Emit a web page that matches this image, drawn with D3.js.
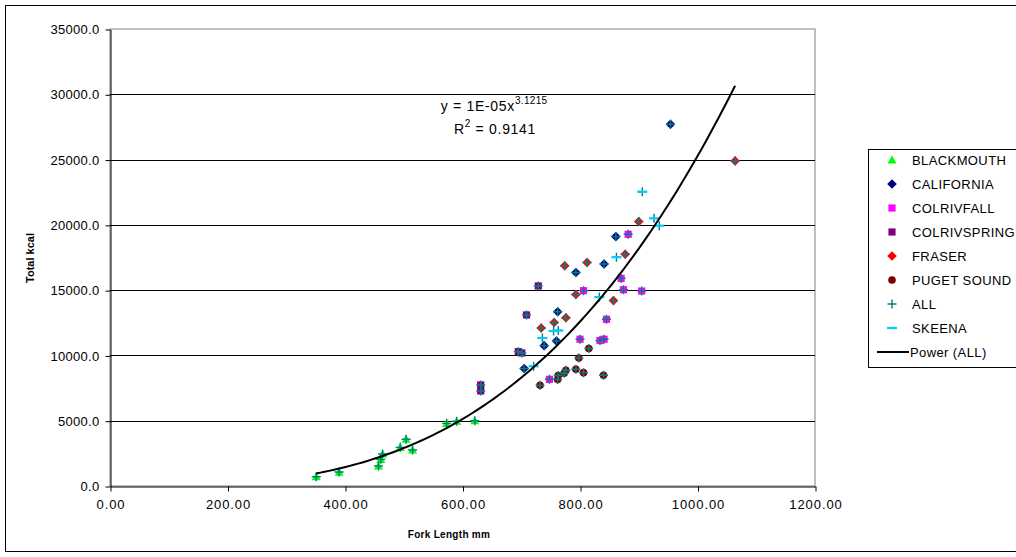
<!DOCTYPE html>
<html>
<head>
<meta charset="utf-8">
<script src="https://cdn.jsdelivr.net/npm/d3@7"></script>
<style>
  body { margin: 0; background: #fff; }
  svg { display: block; font-family: 'Liberation Sans', Arial, sans-serif; }
</style>
</head>
<body>
<div id="chart"></div>
<script>
// data: [fork length mm, total kcal]
const blackmouth = [[351,710],[390,1070],[457,1530],[461,2040],[464,2450],[494,2960],[504,3580],[515,2760],[573,4800],[590,4960],[621,5000]];
const california = [[954,27700],[861,19100],[841,17000],[793,16350],[762,13350],[760,11100],[739,10750],[705,9000]];
const colrivfall = [[882,19280],[870,15900],[806,14960],[874,15030],[905,14930],[845,12770],[800,11240],[834,11140],[841,11240],[748,8170]];
const colrivspring = [[729,15320],[709,13100],[695,10290],[701,10190],[631,7740],[631,7280]];
const fraser = [[1064,24900],[900,20250],[877,17750],[774,16870],[812,17120],[793,14670],[857,14200],[776,12890],[756,12520],[734,12100]];
const pugetSound = [[815,10530],[798,9800],[776,8860],[773,8630],[793,8940],[806,8680],[840,8480],[763,8460],[762,8160],[732,7710]];
const skeena = [[862,17520],[833,14470],[755,11870],[763,11910],[736,11330],[721,9170],[906,22540],[926,20500],[935,19940]];
const allFish = [].concat(blackmouth, california, colrivfall, colrivspring, fraser, pugetSound, skeena);

const yTicks = [0, 5000, 10000, 15000, 20000, 25000, 30000, 35000];
const xTicks = [0, 200, 400, 600, 800, 1000, 1200];

// exponent shown in the trendline label
const powerExponent = 3.1215;

const width = 1016;
const height = 557;

const x = d3.scaleLinear().domain([0, 1200]).range([110, 815]);
const y = d3.scaleLinear().domain([0, 35000]).range([486, 29]);

const svg = d3.select('#chart')
    .append('svg')
        .attr('width', width)
        .attr('height', height);

//outer chart border
svg.append('rect')
    .attr('x', 5.5).attr('y', 5.5)
    .attr('width', 1030).attr('height', 546)
    .attr('fill', 'white')
    .attr('stroke', 'black');

//plot area
svg.append('rect')
    .attr('x', x(0)).attr('y', y(35000))
    .attr('width', x(1200) - x(0)).attr('height', y(0) - y(35000))
    .attr('fill', 'white')
    .attr('stroke', '#808080');

//gridlines
svg.append('g')
    .selectAll('line')
    .data(yTicks.filter(d => d > 0 && d < 35000))
    .join('line')
        .attr('x1', x(0)).attr('x2', x(1200))
        .attr('y1', d => Math.round(y(d)) + 0.5)
        .attr('y2', d => Math.round(y(d)) + 0.5)
        .attr('stroke', 'black');

//axes
const yAxis = svg.append('g')
    .attr('transform', `translate(${x(0) + 0.5}, 0.5)`)
    .call(d3.axisLeft(y).tickValues(yTicks).tickFormat(d3.format('.1f')).tickSize(5).tickPadding(6).tickSizeOuter(0));
const xAxis = svg.append('g')
    .attr('transform', `translate(0.5, ${y(0) + 0.5})`)
    .call(d3.axisBottom(x).tickValues(xTicks).tickFormat(d3.format('.2f')).tickSize(5).tickPadding(8).tickSizeOuter(0));

[yAxis, xAxis].forEach(a => {
    a.selectAll('text').attr('font-size', 13).attr('fill', 'black').attr('font-family', 'Liberation Sans, Arial, sans-serif');
    a.selectAll('line, path').attr('stroke', 'black');
});
yAxis.selectAll('text').attr('letter-spacing', 0.3);
xAxis.selectAll('text').attr('letter-spacing', 0.9);

//axis titles
svg.append('text')
    .attr('x', 449).attr('y', 538)
    .attr('text-anchor', 'middle')
    .attr('font-size', 10).attr('font-weight', 'bold')
    .attr('letter-spacing', 0.3)
    .text('Fork Length mm');

svg.append('text')
    .attr('transform', 'translate(34, 258) rotate(-90)')
    .attr('text-anchor', 'middle')
    .attr('font-size', 11).attr('font-weight', 'bold')
    .text('Total kcal');

//power trendline: coefficient fitted in log-log space to ALL, exponent from label
const lx = allFish.map(d => Math.log(d[0]));
const ly = allFish.map(d => Math.log(d[1]));
const a = Math.exp(d3.mean(ly) - powerExponent * d3.mean(lx));
const [xMin, xMax] = d3.extent(allFish, d => d[0]);
const fitPts = d3.range(0, 101).map(i => {
    const xv = xMin + (xMax - xMin) * i / 100;
    return [xv, a * Math.pow(xv, powerExponent)];
});

//marker shapes
const sq = s => `M${-s},${-s}H${s}V${s}H${-s}Z`;
const diamond = s => `M0,${-s}L${s},0L0,${s}L${-s},0Z`;
const triangle = s => `M0,${-s}L${s},${s * 0.8}L${-s},${s * 0.8}Z`;
const plus = s => `M${-s},0H${s}M0,${-s}V${s}`;
const dash = s => `M${-s},0H${s}`;

const series = [
    {name: 'BLACKMOUTH', data: blackmouth, path: triangle(4.5), fill: '#00FF00', stroke: 'none'},
    {name: 'CALIFORNIA', data: california, path: diamond(4.8), fill: '#000080', stroke: 'none'},
    {name: 'COLRIVFALL', data: colrivfall, path: sq(3.6), fill: '#FF00FF', stroke: 'none'},
    {name: 'COLRIVSPRING', data: colrivspring, path: sq(3.6), fill: '#800080', stroke: 'none'},
    {name: 'FRASER', data: fraser, path: diamond(4.8), fill: '#FF0000', stroke: 'none'},
    {name: 'PUGET SOUND', data: pugetSound, circle: 3.8, fill: '#800000', stroke: 'none'},
    {name: 'ALL', data: allFish, path: plus(4.5), fill: 'none', stroke: '#008080', sw: 1.4},
    {name: 'SKEENA', data: skeena, path: dash(5), fill: 'none', stroke: '#00CCFF', sw: 2.2}
];

function drawMarker(sel, s) {
    if (s.circle) {
        sel.append('circle').attr('r', s.circle).attr('fill', s.fill);
    } else {
        sel.append('path').attr('d', s.path)
            .attr('fill', s.fill)
            .attr('stroke', s.stroke)
            .attr('stroke-width', s.sw || 1);
    }
}

series.forEach(s => {
    svg.append('g')
        .selectAll('g')
        .data(s.data)
        .join('g')
            .attr('transform', d => `translate(${x(d[0])}, ${y(d[1])})`)
            .each(function() { drawMarker(d3.select(this), s); });
});

svg.append('path')
    .datum(fitPts)
    .attr('d', d3.line().x(d => x(d[0])).y(d => y(d[1])))
    .attr('fill', 'none')
    .attr('stroke', 'black')
    .attr('stroke-width', 2);

//equation
const eq = svg.append('text')
    .attr('x', 494).attr('y', 111)
    .attr('text-anchor', 'middle')
    .attr('font-size', 14)
    .attr('letter-spacing', 0.7);
eq.append('tspan').text('y = 1E-05x');
eq.append('tspan').attr('dy', -7).attr('font-size', 10).attr('letter-spacing', 0.3).text(String(powerExponent));

const r2 = svg.append('text')
    .attr('x', 495).attr('y', 134)
    .attr('text-anchor', 'middle')
    .attr('font-size', 14)
    .attr('letter-spacing', 0.7);
r2.append('tspan').text('R');
r2.append('tspan').attr('dy', -7).attr('font-size', 10).text('2');
r2.append('tspan').attr('dy', 7).text(' = 0.9141');

//legend
const legend = svg.append('g');
legend.append('rect')
    .attr('x', 868.5).attr('y', 149.5)
    .attr('width', 200).attr('height', 218)
    .attr('fill', 'white')
    .attr('stroke', 'black');

const legendItems = series.concat([{name: 'Power (ALL)', line: true}]);
legendItems.forEach((s, i) => {
    const ly0 = 160 + i * 24;
    const g = legend.append('g');
    if (s.line) {
        g.append('line')
            .attr('x1', 877).attr('x2', 909)
            .attr('y1', ly0).attr('y2', ly0)
            .attr('stroke', 'black').attr('stroke-width', 2);
        g.append('text')
            .attr('x', 910).attr('y', ly0 + 4.5)
            .attr('font-size', 13).attr('letter-spacing', 0.4)
            .text(s.name);
    } else {
        const m = g.append('g').attr('transform', `translate(892, ${ly0})`);
        drawMarker(m, s);
        g.append('text')
            .attr('x', 912).attr('y', ly0 + 4.5)
            .attr('font-size', 13).attr('letter-spacing', 0.4)
            .text(s.name);
    }
});
</script>
</body>
</html>
